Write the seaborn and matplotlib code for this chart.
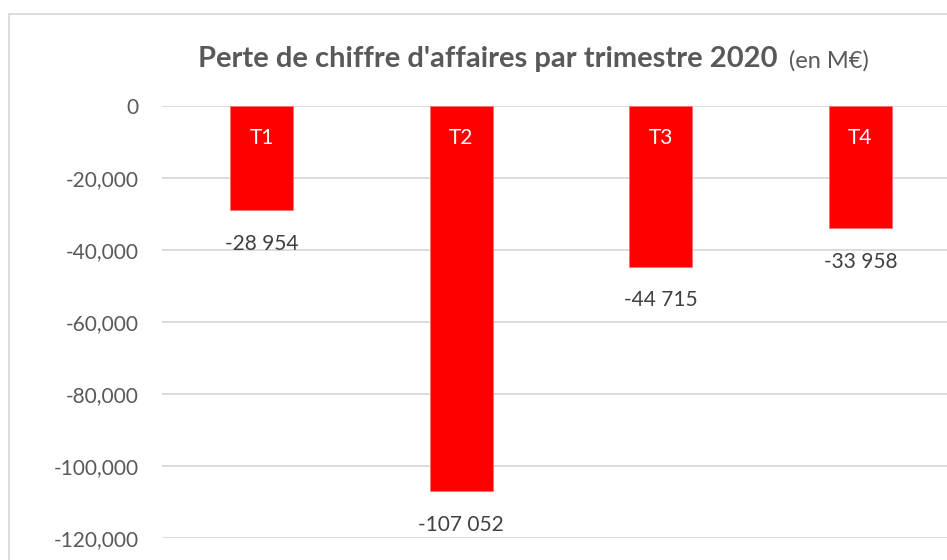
import matplotlib
matplotlib.use("Agg")
import matplotlib.pyplot as plt
import matplotlib.patches as mpatches
from matplotlib.ticker import FuncFormatter
import seaborn as sns

# données (en M€)
trimestres = ["T1", "T2", "T3", "T4"]
pertes = [-28954, -107052, -44715, -33958]
y_ticks = [0, -20000, -40000, -60000, -80000, -100000, -120000]

sns.set_theme(style="white")
plt.rcParams['font.family'] = ['Lato', 'DejaVu Sans']

W, H = 947, 560
fig = plt.figure(figsize=(W / 100, H / 100), dpi=100)
fig.patch.set_facecolor("white")

# cadre gris clair (coupé à droite et en bas comme la capture)
cadre = mpatches.Rectangle((9 / W, -0.05), 1.05, 1 - 14 / H + 0.05,
                           transform=fig.transFigure, fill=False,
                           edgecolor="#D9D9D9", linewidth=1.3)
fig.patches.append(cadre)

# zone de tracé : 4 catégories de ~199.5 px à partir de x=162, déborde à droite
ax = fig.add_axes([162 / W, 1 - 538 / H, 798 / W, (538 - 106) / H])

sns.barplot(x=trimestres, y=pertes, color="#FF0000", width=0.316,
            saturation=1, edgecolor="#FF7070", linewidth=0.6, ax=ax)

ax.set_xlim(-0.5, 3.5)
ax.set_ylim(-120000, 0)
ax.set_yticks(y_ticks)
ax.yaxis.set_major_formatter(FuncFormatter(lambda v, p: f"{int(v):,}"))
ax.tick_params(axis="y", labelsize=15, labelcolor="#595959", length=0, pad=17)
ax.set_xticks([])
ax.set_xlabel("")
ax.set_ylabel("")
ax.grid(axis="y", color="#D9D9D9", linewidth=1.3)
ax.set_axisbelow(True)
for s in ax.spines.values():
    s.set_visible(False)

# étiquettes des trimestres et valeurs
for i, (t, v) in enumerate(zip(trimestres, pertes)):
    ax.annotate(t, xy=(i, 0), xytext=(0, -23), textcoords="offset points",
                ha="center", va="center", color="white", fontsize=15)
    lib = f"{v:,}".replace(",", " ")
    ax.annotate(lib, xy=(i, v), xytext=(0, -24), textcoords="offset points",
                ha="center", va="center", color="#404040", fontsize=15)

# titre : partie grasse + partie normale
t1 = fig.text(198 / W, 1 - 59 / H, "Perte de chiffre d'affaires par trimestre 2020",
              ha="left", va="center", fontsize=21, fontweight="bold", color="#595959")
ax.annotate("(en M€)", xy=(1, 0), xycoords=t1, xytext=(8, 0),
            textcoords="offset points", ha="left", va="bottom",
            fontsize=17, color="#595959")

fig.savefig("out.png", dpi=100)
